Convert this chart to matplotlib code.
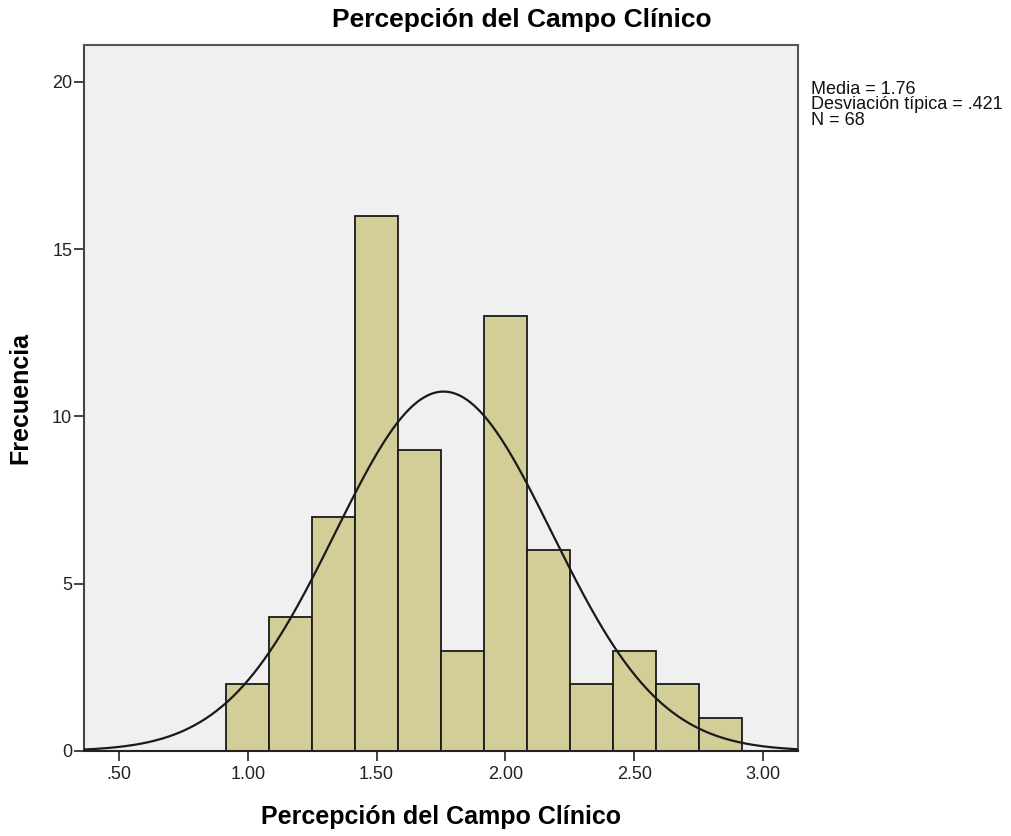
import numpy as np
import matplotlib.pyplot as plt

plt.rcParams['font.family'] = ['Liberation Sans', 'DejaVu Sans']

# histogram data (SPSS output)
counts = [2, 4, 7, 16, 9, 3, 13, 6, 2, 3, 2, 1]
bin_start = 0.9167
bin_width = 0.1667
media = 1.76
desv = 0.421
n = 68

xticks = [0.5, 1.0, 1.5, 2.0, 2.5, 3.0]
xticklabels = ['.50', '1.00', '1.50', '2.00', '2.50', '3.00']
yticks = [0, 5, 10, 15, 20]

fig = plt.figure(figsize=(10.11, 8.36), dpi=100)
ax = fig.add_axes([0.0831, 0.1017, 0.7062, 0.8445])
ax.set_facecolor('#f0f0f0')

lefts = bin_start + bin_width * np.arange(len(counts))
ax.bar(lefts, counts, width=bin_width, align='edge', color='#d3ce97',
       edgecolor='#1a1a1a', linewidth=1.3, zorder=2)

xmin, xmax = 0.364, 3.136
xs = np.linspace(xmin, xmax, 400)
ys = n * bin_width / (desv * np.sqrt(2 * np.pi)) * np.exp(-0.5 * ((xs - media) / desv) ** 2)
ax.plot(xs, ys, color='#1a1a1a', linewidth=1.6, zorder=3)

ax.set_xlim(xmin, xmax)
ax.set_ylim(0, 21.1)
ax.set_xticks(xticks)
ax.set_xticklabels(xticklabels)
ax.set_yticks(yticks)
ax.tick_params(direction='out', length=7.5, width=1.2, labelsize=13, colors='#222222', pad=1)
ax.tick_params(axis='x', pad=3)

for s in ax.spines.values():
    s.set_color('#555555')
    s.set_linewidth(1.5)
ax.spines['bottom'].set_color('#222222')
ax.spines['left'].set_color('#444444')

ax.set_xlabel('Percepción del Campo Clínico', fontsize=18, fontweight='bold', labelpad=16)
ax.set_ylabel('Frecuencia', fontsize=18, fontweight='bold', labelpad=14)
fig.text(522 / 1011, 1 - 20 / 836, 'Percepción del Campo Clínico', fontsize=19,
         fontweight='bold', ha='center', va='center')

fig.text(811 / 1011, 1 - 81 / 836,
         'Media = 1.76\nDesviación típica = .421\nN = 68',
         fontsize=13, ha='left', va='top', linespacing=0.88, color='#111111')

fig.savefig('out.png', dpi=100)
